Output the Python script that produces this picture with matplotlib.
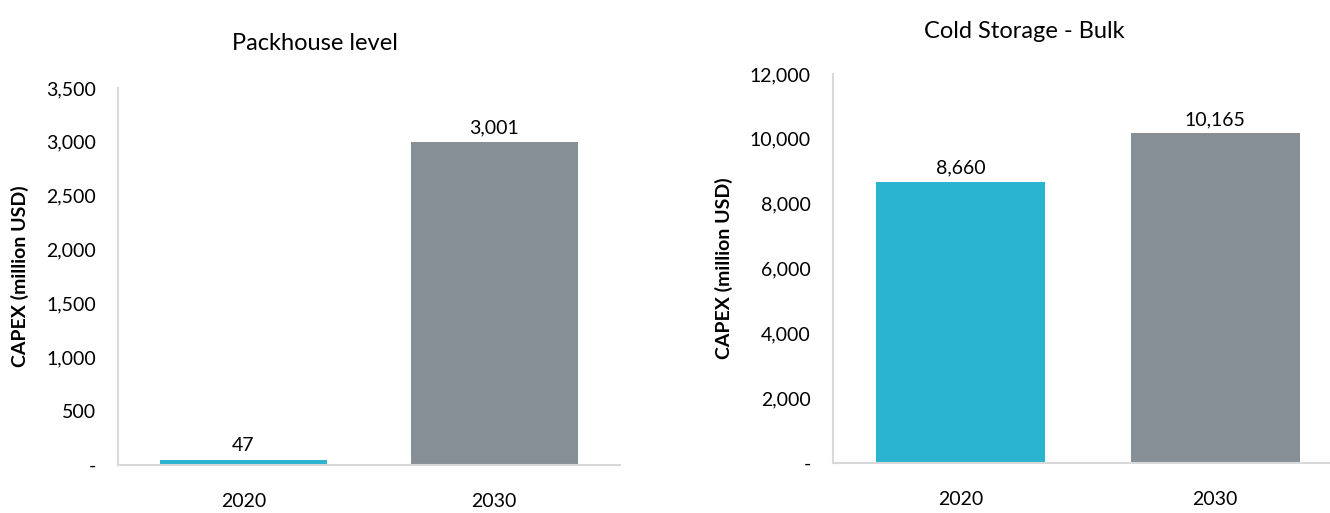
import matplotlib.pyplot as plt
from matplotlib.ticker import FuncFormatter

# CAPEX in million USD
years = ["2020", "2030"]
packhouse = [47, 3001]
cold_storage = [8660, 10165]
packhouse_ticks = [0, 500, 1000, 1500, 2000, 2500, 3000, 3500]
cold_ticks = [0, 2000, 4000, 6000, 8000, 10000, 12000]

colors = ["#2ab4cf", "#878f96"]
spine_color = "#d9d9d9"

plt.rcParams['font.family'] = ['Lato', 'DejaVu Sans']


def fmt(v, pos=None):
    return "-" if v == 0 else f"{v:,.0f}"


def bar_panel(ax, values, ticks, xmax):
    x = range(len(years))
    bars = ax.bar(x, values, width=0.665, color=colors)
    for b, v in zip(bars, values):
        ax.annotate(f"{v:,}", (b.get_x() + b.get_width() / 2, v),
                    xytext=(0, 4), textcoords="offset points",
                    ha="center", va="bottom", fontsize=14)
    ax.set_xlim(-0.5, xmax)
    ax.set_ylim(0, ticks[-1])
    ax.set_yticks(ticks)
    ax.yaxis.set_major_formatter(FuncFormatter(fmt))
    ax.set_xticks(list(x))
    ax.set_xticklabels(years)
    ax.tick_params(axis="y", length=0, labelsize=14, pad=16)
    ax.tick_params(axis="x", length=0, labelsize=14, pad=20)
    for s in ["top", "right"]:
        ax.spines[s].set_visible(False)
    for s in ["left", "bottom"]:
        ax.spines[s].set_color(spine_color)
        ax.spines[s].set_linewidth(1.5)
    ax.set_ylabel("CAPEX (million USD)", fontsize=14, fontweight="bold",
                  labelpad=12)


fig = plt.figure(figsize=(13.3, 5.13), dpi=100)
ax1 = fig.add_axes([0.0887, 0.0936, 0.3773, 0.735])
ax2 = fig.add_axes([0.6263, 0.0975, 0.3737, 0.7583])

bar_panel(ax1, packhouse, packhouse_ticks, 1.5)
bar_panel(ax2, cold_storage, cold_ticks, 1.45)

# panel titles sit left of the axes centre
fig.text(0.2368, 1 - 50 / 513, "Packhouse level", ha="center",
         va="baseline", fontsize=17)
fig.text(0.770, 1 - 38 / 513, "Cold Storage - Bulk", ha="center",
         va="baseline", fontsize=17)

fig.savefig("out.png", dpi=100)
